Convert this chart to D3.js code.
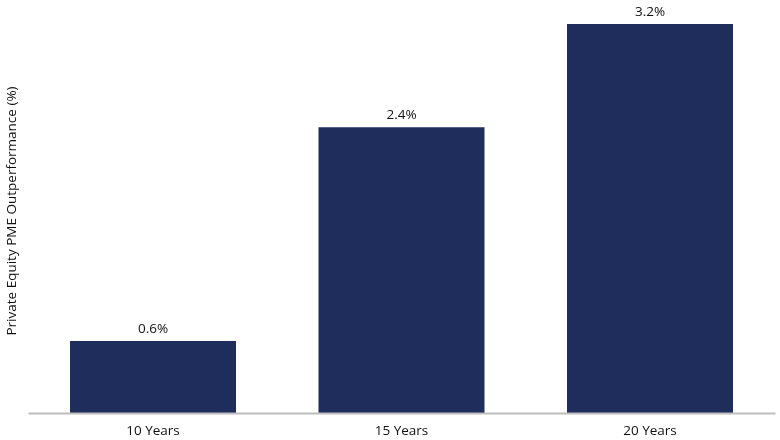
<!DOCTYPE html>
<html>
    <head>
        <meta charset="utf-8">
        <title>Private Equity PME Outperformance</title>
        <style>
            html, body {margin: 0px;padding: 0px;overflow: hidden;background: #ffffff;font-family: "Open Sans", sans-serif;}
            #chart {position: fixed;}
        </style>
    </head>
    <body>
        <div id="chart"></div>
        <script src="https://cdn.jsdelivr.net/npm/d3@7"></script>
        <script type="text/javascript">
        // Chart data
        var categories = ["10 Years", "15 Years", "20 Years"];
        var values = [0.6, 2.38, 3.24];
        var yTitle = "Private Equity PME Outperformance (%)";

        var width = 780, height = 440;
        var baseY = 413, topY = 24;

        var svg = d3.select("#chart").append("svg")
            .attr("width", width)
            .attr("height", height);

        var x = d3.scaleBand()
            .domain(categories)
            .range([28, 775])
            .paddingInner(0.332)
            .paddingOuter(0.169);

        var y = d3.scaleLinear()
            .domain([0, 3.24])
            .range([baseY, topY]);

        // bars
        svg.selectAll(".bar")
            .data(values)
          .enter().append("rect")
            .attr("class", "bar")
            .attr("x", function(d, i) { return x(categories[i]); })
            .attr("y", function(d) { return y(d); })
            .attr("width", x.bandwidth())
            .attr("height", function(d) { return y(0) - y(d); })
            .style("fill", "#1f2d5c");

        // value labels
        svg.selectAll(".val")
            .data(values)
          .enter().append("text")
            .attr("class", "val")
            .attr("x", function(d, i) { return x(categories[i]) + x.bandwidth() / 2; })
            .attr("y", function(d) { return y(d) - 8; })
            .attr("text-anchor", "middle")
            .style("font-size", "13.5px")
            .style("fill", "#111")
            .text(function(d) { return d.toFixed(1) + "%"; });

        // x axis
        var xAxis = svg.append("g")
            .attr("transform", "translate(0," + y(0) + ")")
            .call(d3.axisBottom(x).tickSize(0).tickPadding(12));
        xAxis.select(".domain").attr("stroke", "#bdbdbd").attr("stroke-width", 2);
        xAxis.selectAll("text")
            .style("font-size", "13.5px")
            .style("font-family", "'Open Sans', sans-serif")
            .style("fill", "#111");

        // y title
        svg.append("text")
            .attr("transform", "translate(16,211) rotate(-90)")
            .attr("text-anchor", "middle")
            .style("font-size", "13.5px")
            .style("fill", "#111")
            .text(yTitle);
        </script>
    </body>
</html>
